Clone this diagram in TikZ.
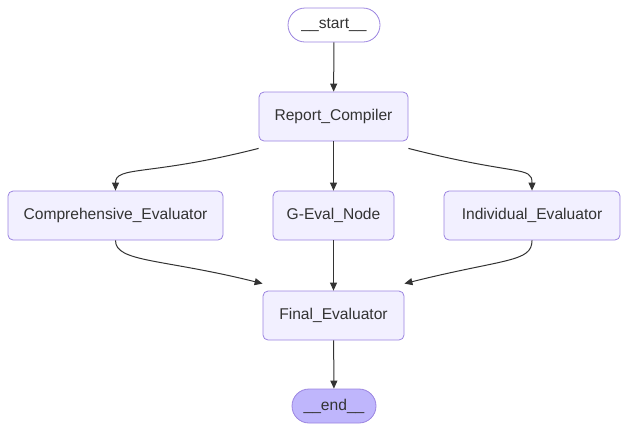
\documentclass[tikz,border=0pt]{standalone}
\usepackage{fontspec}
\setmainfont{Liberation Sans}
\usetikzlibrary{arrows.meta}
\definecolor{nodefill}{HTML}{F2F0FF}
\definecolor{nodedraw}{HTML}{9B84E0}
\definecolor{endfill}{HTML}{BFB6FC}
\definecolor{edgecol}{HTML}{333333}
\begin{document}
\begin{tikzpicture}[x=1pt,y=-1pt,
  every node/.style={font=\fontsize{15.6}{18}\selectfont, text=edgecol},
  box/.style={draw=nodedraw, fill=nodefill, rounded corners=5pt, line width=0.8pt, inner sep=0pt},
  pill/.style={draw=nodedraw, line width=0.8pt, rounded corners=17pt, inner sep=0pt},
  edge/.style={draw=edgecol, line width=1pt, -{Triangle[length=8pt,width=7pt]}}]
\useasboundingbox (0,0) rectangle (628,432);
\node[pill, fill=white, minimum width=92pt, minimum height=34pt] (start) at (334,25) {\_\_start\_\_};
\node[box, minimum width=149pt, minimum height=49pt] (rc) at (333.5,116.5) {Report\_Compiler};
\node[box, minimum width=215pt, minimum height=49pt] (ce) at (115.5,215.5) {Comprehensive\_Evaluator};
\node[box, minimum width=121pt, minimum height=49pt] (ge) at (333.5,215.5) {G-Eval\_Node};
\node[box, minimum width=176pt, minimum height=49pt] (ie) at (532,215.5) {Individual\_Evaluator};
\node[box, minimum width=141pt, minimum height=49pt] (fe) at (333.5,315.5) {Final\_Evaluator};
\node[pill, fill=endfill, minimum width=84pt, minimum height=34pt] (end) at (334,406) {\_\_end\_\_};
\draw[edge] (start) -- (rc);
\draw[edge] (rc) -- (ge);
\draw[edge] (ge) -- (fe);
\draw[edge] (fe) -- (end);
\draw[edge] ([yshift=-7pt]rc.south west) .. controls +(-110,28) and +(0,-25) .. (ce.north);
\draw[edge] ([yshift=-7pt]rc.south east) .. controls +(110,28) and +(0,-25) .. (ie.north);
\draw[edge] (ce.south) .. controls +(0,22) and +(-100,-25) .. ([yshift=7pt]fe.north west);
\draw[edge] (ie.south) .. controls +(0,22) and +(100,-25) .. ([yshift=7pt]fe.north east);
\end{tikzpicture}
\end{document}
